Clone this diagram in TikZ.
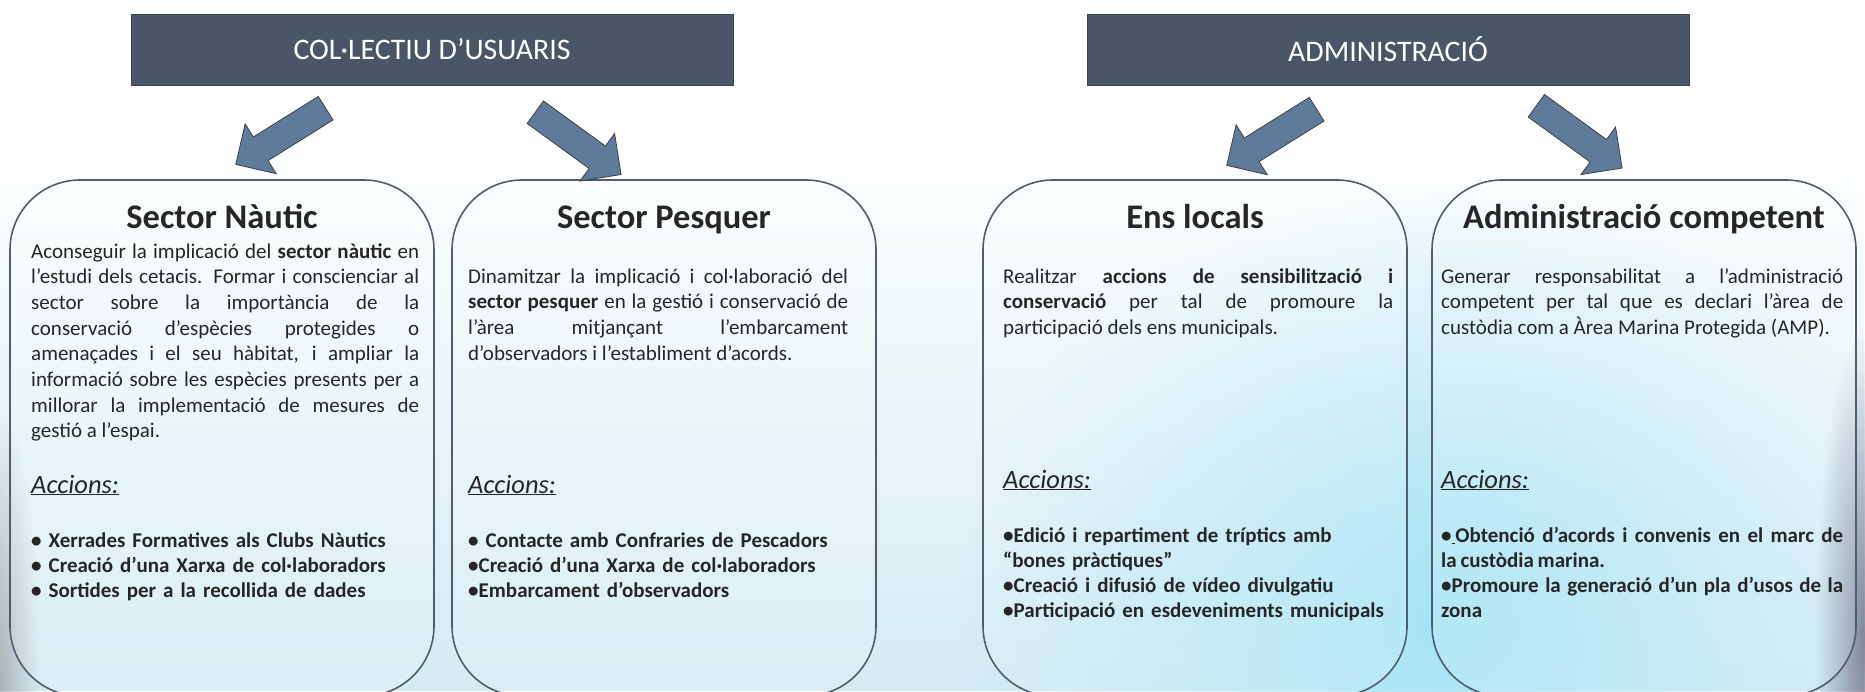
\documentclass[tikz,border=0pt]{standalone}
\usepackage{fontspec}
\setmainfont{Carlito}
\usetikzlibrary{shapes.arrows,fadings}

\definecolor{hdrfill}{HTML}{4A5667}
\definecolor{panelline}{HTML}{4E5E6E}
\definecolor{arrowfill}{HTML}{5F7B9B}
\definecolor{txt}{HTML}{262626}
\definecolor{bgcyan}{HTML}{A6E4F6}
\definecolor{bgblue}{HTML}{D3ECF4}
\definecolor{bgdark}{HTML}{6E6C82}

\newcommand{\tightwords}{\spaceskip=3.8pt plus 3pt minus 1pt\relax}

\tikzfading[name=fadeup, top color=transparent!100, bottom color=transparent!0]
\tikzfading[name=glow, inner color=transparent!0, outer color=transparent!100]

\begin{document}
\begin{tikzpicture}[x=1pt, y=1pt,
        hdr/.style={rectangle, draw=hdrfill!80!black, fill=hdrfill, minimum width=602pt, minimum height=71pt, text=white, font=\fontsize{29.8}{34}\selectfont},
        panel/.style={rectangle, draw=panelline, line width=1.6pt, rounded corners=70pt, fill=white, fill opacity=0.15, minimum width=424pt, minimum height=516pt},
        blockarrow/.style={single arrow, draw=black!75, fill=arrowfill, line width=0.8pt, minimum height=106pt, minimum width=58pt, single arrow head extend=15.5pt, single arrow head indent=0pt, inner xsep=0pt, inner ysep=13.5pt, anchor=tail},
        ptitle/.style={anchor=base, text=txt, font=\bfseries\fontsize{34.5}{40}\selectfont},
        body/.style={anchor=base west, text=txt, text width=#1, align=justify, inner sep=0pt, font=\fontsize{21}{25.7}\selectfont},
        acc/.style={anchor=base west, text=txt, inner sep=0pt, font=\itshape\fontsize{26.5}{30}\selectfont},
        items/.style={anchor=base west, text=txt, text width=400pt, inner sep=0pt, align=left, font=\bfseries\fontsize{21}{25.3}\selectfont\tightwords}
    ]
        \useasboundingbox (0,0) rectangle (1865,-691);

        % Background
        \fill[white] (0,0) rectangle (1865,-691);
        \fill[bgblue, path fading=fadeup] (0,-140) rectangle (1865,-691);
        \fill[bgcyan, path fading=glow] (960,-180) rectangle (1940,-1060);
        \fill[black!40, fill opacity=0.7, path fading=glow] (-45,-400) rectangle (40,-980);
        \fill[bgdark, fill opacity=0.8, path fading=glow] (1815,-330) rectangle (1915,-950);

        % Headings
        \node[hdr] (users) at (432,-49.5) {COL·LECTIU D’USUARIS};
        \node[hdr] (admin) at (1388,-49.5) {ADMINISTRACIÓ};

        % Panels
        \node[panel] (nautic) at (222,-438) {};
        \node[panel] (pesquer) at (664,-438) {};
        \node[panel] (ens) at (1195,-438) {};
        \node[panel] (compet) at (1644,-438) {};

        % Block arrows
        \node[blockarrow, rotate=212] (toNautic) at (326,-108) {};
        \node[blockarrow, rotate=-36] (toPesquer) at (535,-112) {};
        \node[blockarrow, rotate=212] (toEns) at (1317,-109) {};
        \node[blockarrow, rotate=-36] (toCompet) at (1536,-105.5) {};

        % Sector Nautic
        \node[ptitle] (nauticT) at (222,-228) {Sector Nàutic};
        \node[body=388pt] (nauticB) at (31,-258) {Aconseguir la implicació del \textbf{sector nàutic} en\linebreak
            l’estudi dels cetacis.  Formar i conscienciar al\linebreak
            sector sobre la importància de la\linebreak
            conservació d’espècies protegides o\linebreak
            amenaçades i el seu hàbitat,  i ampliar la\linebreak
            informació sobre les espècies presents per a\linebreak
            millorar la implementació de mesures de\linebreak
            gestió a l’espai.};
        \node[acc] (nauticA) at (31,-493) {\underline{Accions:}};
        \node[items] (nauticI) at (31,-547) {• Xerrades Formatives als Clubs Nàutics\\• Creació d’una Xarxa de col·laboradors\\• Sortides per a la recollida de dades};

        % Sector Pesquer
        \node[ptitle] (pesquerT) at (664,-228) {Sector Pesquer};
        \node[body=380pt] (pesquerB) at (468,-283) {Dinamitzar la implicació i col·laboració del\linebreak
            \textbf{sector pesquer} en la gestió i conservació de\linebreak
            l’àrea mitjançant l’embarcament\linebreak
            d’observadors i l’establiment d’acords.};
        \node[acc] (pesquerA) at (468,-493) {\underline{Accions:}};
        \node[items] (pesquerI) at (468,-547) {• Contacte amb Confraries de Pescadors\\•Creació d’una Xarxa de col·laboradors\\•Embarcament d’observadors};

        % Ens locals
        \node[ptitle] (ensT) at (1195,-228) {Ens locals};
        \node[body=390pt] (ensB) at (1003,-283) {Realitzar \textbf{accions de sensibilització i}\linebreak
            \textbf{conservació} per tal de promoure la\linebreak
            participació dels ens municipals.};
        \node[acc] (ensA) at (1003,-488) {\underline{Accions:}};
        \node[items] (ensI) at (1003,-542) {•Edició i repartiment de tríptics amb\\“bones pràctiques”\\•Creació i difusió de vídeo divulgatiu\\•Participació en esdeveniments municipals};

        % Administracio competent
        \node[ptitle] (competT) at (1644,-228) {Administració competent};
        \node[body=402pt] (competB) at (1441,-283) {Generar responsabilitat a l’administració\linebreak
            competent per tal que es declari  l’àrea de\linebreak
            custòdia com a Àrea Marina Protegida (AMP).};
        \node[acc] (competA) at (1441,-488) {\underline{Accions:}};
        \node[items, text width=402pt, align=justify] (competI) at (1441,-542) {•\underline{\ }Obtenció d’acords i convenis en el marc de\linebreak
            la custòdia marina.\\•Promoure la generació d’un pla d’usos de la\linebreak
            zona};
    \end{tikzpicture}
\end{document}
